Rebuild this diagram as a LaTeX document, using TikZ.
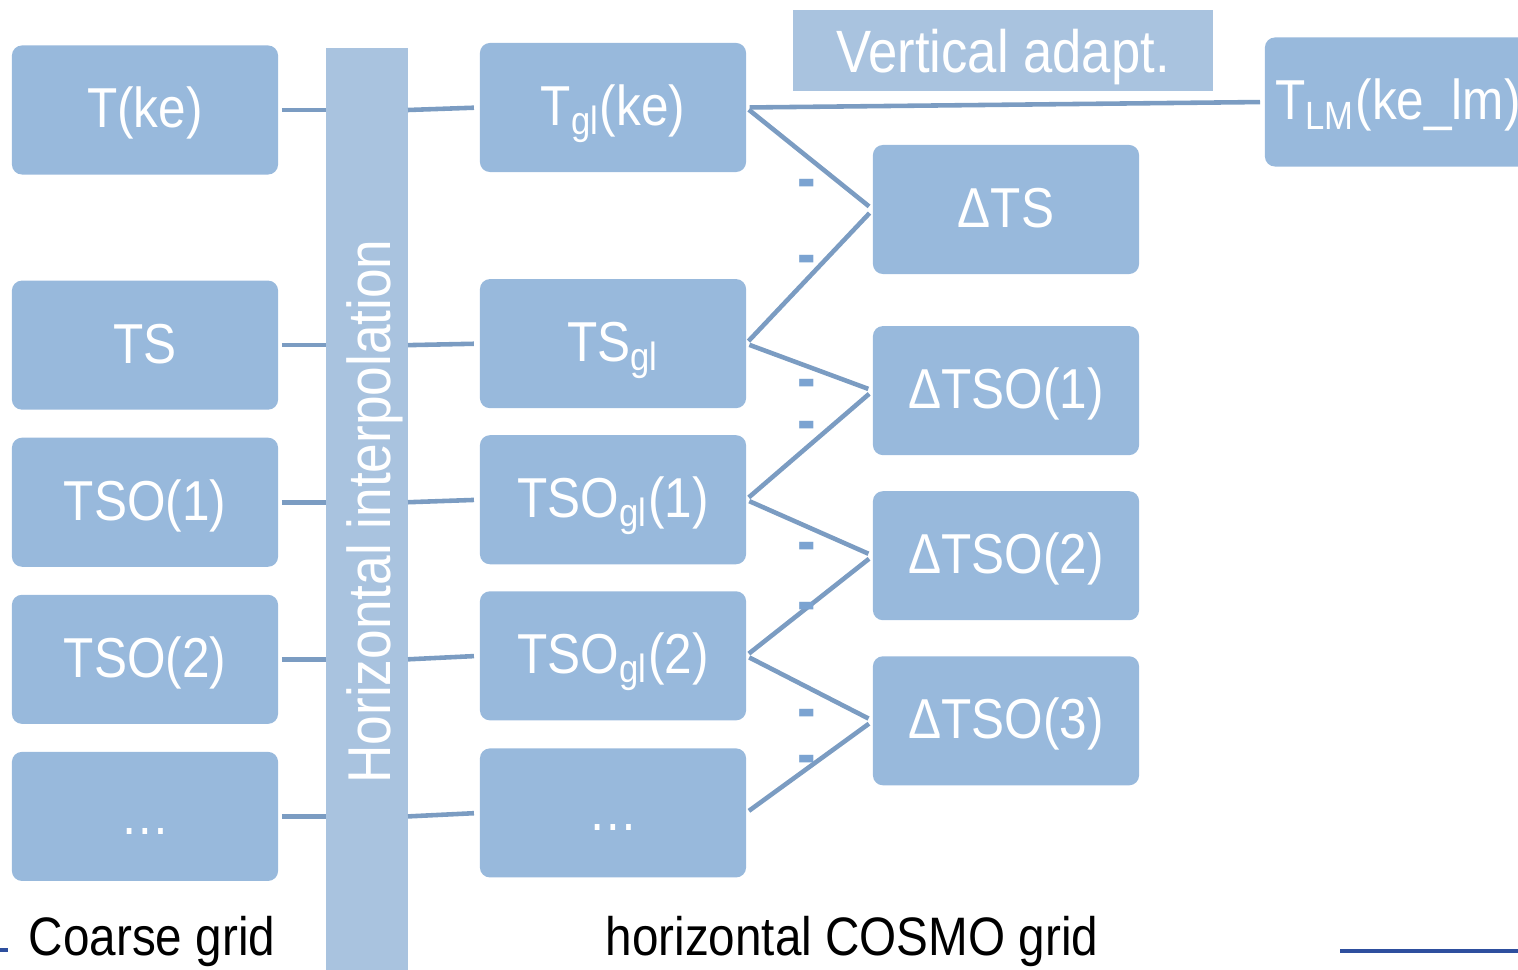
\documentclass[tikz,border=0pt]{standalone}
\usepackage{fontspec}
\setmainfont{Liberation Sans}[FakeStretch=0.88]
\usetikzlibrary{positioning}

\definecolor{boxblue}{HTML}{98B9DC}
\definecolor{barblue}{HTML}{A9C3DF}
\definecolor{linkblue}{HTML}{7B9CC2}
\definecolor{minusblue}{HTML}{7BA3D1}
\definecolor{ruleblue}{HTML}{2E4F9E}

\begin{document}
\begin{tikzpicture}[
        x=0.01cm,y=-0.01cm,
        node distance=0.28cm,
        field/.style={rectangle,rounded corners=0.1cm,fill=boxblue,text=white,minimum width=2.66cm,minimum height=1.29cm,inner sep=0pt,outer sep=0pt,text height=13pt,text depth=2.8pt,align=center,font=\fontsize{16}{19}\selectfont},
        band/.style={rectangle,fill=barblue,text=white,inner sep=0pt,outer sep=0pt,font=\fontsize{16}{19}\selectfont},
        link/.style={draw=linkblue,line width=1.3pt},
        minus/.style={text=minusblue,inner sep=0pt,yshift=-2pt,font=\fontsize{18}{20}\selectfont\bfseries},
        caption/.style={text=black,inner sep=0pt,font=\fontsize{15.4}{18}\selectfont},
      ]
      \useasboundingbox (0,0) rectangle (1518,970);
      \clip (0,0) rectangle (1518,970);

      % coarse grid
      \node[field] at (145,110) (ke) {T(ke)};
      \node[field,below=1.06cm of ke] (ts) {TS};
      \node[field,below=of ts] (tso1) {TSO(1)};
      \node[field,below=of tso1] (tso2) {TSO(2)};
      \node[field,below=of tso2] (dots) {\dots};

      \node[band,minimum width=0.82cm,minimum height=9.27cm] at (367,511.5) (bar)
        {\hspace{4.5pt}\rotatebox{90}{\fontsize{17.2}{20}\selectfont Horizontal interpolation}};

      % COSMO grid
      \node[field] at (613,107.5) (glke) {T\textsubscript{gl}(ke)};
      \node[field,below=1.07cm of glke] (glts) {TS\textsubscript{gl}};
      \node[field,below=0.27cm of glts] (gltso1) {TSO\textsubscript{gl}(1)};
      \node[field,below=0.27cm of gltso1] (gltso2) {TSO\textsubscript{gl}(2)};
      \node[field,below=0.28cm of gltso2] (gldots) {\dots};

      \node[field] at (1006,209.5) (dts) {ΔTS};
      \node[field,below=0.52cm of dts] (dtso1) {ΔTSO(1)};
      \node[field,below=0.36cm of dtso1] (dtso2) {ΔTSO(2)};
      \node[field,below=0.36cm of dtso2] (dtso3) {ΔTSO(3)};

      \node[band,minimum width=4.2cm,minimum height=0.81cm,text height=12.7pt,text depth=0pt,font=\fontsize{17}{20}\selectfont] at (1003,50.5) (vert) {Vertical adapt.};
      \node[field] at (1398,102) (tlm) {T\textsubscript{LM}(ke\_lm)};

      \foreach \a/\b in {ke/glke,ts/glts,tso1/gltso1,tso2/gltso2,dots/gldots} {
        \draw[link,shorten <=1.1pt] (\a.east) -- (\a.east -| bar.west);
        \draw[link,shorten >=1.7pt] (bar.east |- \a.east) -- (\b.west);
      }

      \draw[link,shorten <=1pt,shorten >=1.4pt] (glke.east) -- (tlm.west);
      \draw[link,shorten <=1pt,shorten >=1.4pt] (glke.east) -- (dts.west);
      \draw[link,shorten <=1pt,shorten >=1.4pt] (glts.east) -- (dts.west);
      \draw[link,shorten <=1pt,shorten >=1.4pt] (glts.east) -- (dtso1.west);
      \draw[link,shorten <=1pt,shorten >=1.4pt] (gltso1.east) -- (dtso1.west);
      \draw[link,shorten <=1pt,shorten >=1.4pt] (gltso1.east) -- (dtso2.west);
      \draw[link,shorten <=1pt,shorten >=1.4pt] (gltso2.east) -- (dtso2.west);
      \draw[link,shorten <=1pt,shorten >=1.4pt] (gltso2.east) -- (dtso3.west);
      \draw[link,shorten <=1pt,shorten >=1.4pt] (gldots.east) -- (dtso3.west);

      \foreach \y [count=\i] in {182,258,382,424,545,605,712,758}
        \node[minus] at (807,\y) (m\i) {-};

      \node[caption] at (152,941) (coarse) {Coarse grid};
      \node[caption] at (852,941) (cosmo) {horizontal COSMO grid};

      \draw[ruleblue,line width=0.9pt] (0,950) -- (8,950);
      \draw[ruleblue,line width=0.9pt] (1340,951) -- (1518,951);
    \end{tikzpicture}
\end{document}
